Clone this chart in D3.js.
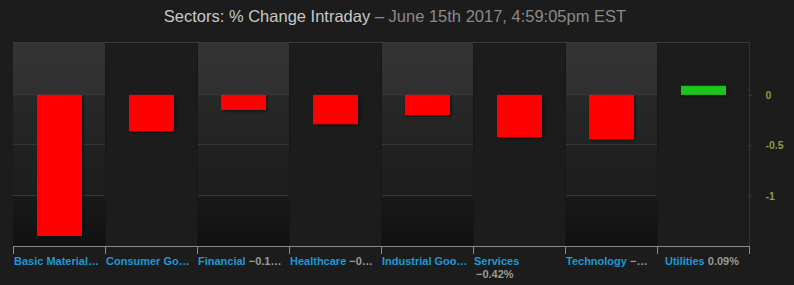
<!DOCTYPE html>
<html>
<head>
<meta charset="utf-8">
<script src="https://cdn.jsdelivr.net/npm/d3@7"></script>
<style>
  html, body { margin: 0; padding: 0; background: #1c1c1c; }
  svg { display: block; }
</style>
</head>
<body>
<div id="chart"></div>
<script>
// sector data
var categories = ["Basic Materials", "Consumer Goods", "Financial", "Healthcare",
                  "Industrial Goods", "Services", "Technology", "Utilities"];
var values = [-1.40, -0.36, -0.15, -0.29, -0.20, -0.42, -0.44, 0.09];

// tick labels as they are shown (truncated / wrapped)
var tickNames = ["Basic Material\u2026", "Consumer Go\u2026", "Financial", "Healthcare",
                 "Industrial Goo\u2026", "Services", "Technology", "Utilities"];
var tickValues = ["", "", "\u22120.1\u2026", "\u22120\u2026", "", "\u22120.42%", "\u2212\u2026", "0.09%"];
var tickWrap = [false, false, false, false, false, true, false, false];
var tickCenter = [false, false, false, false, false, false, false, true];

var yTicks = [0, -0.5, -1];
var yDomain = [-1.5, 0.525];

var W = 794, H = 285;
var plotLeft = 13, plotRight = 749, plotTop = 42, plotBottom = 246;

var svg = d3.select("#chart").append("svg")
  .attr("width", W)
  .attr("height", H);

var defs = svg.append("defs");

var x = d3.scaleBand().domain(categories).range([plotLeft, plotRight]);
var y = d3.scaleLinear().domain(yDomain).range([plotBottom, plotTop]);

// gradient for the lighter alternating columns
var frac = function (v) { return (y(v) - plotTop) / (plotBottom - plotTop); };
var grad = defs.append("linearGradient")
  .attr("id", "colgrad")
  .attr("x1", 0).attr("x2", 0).attr("y1", 0).attr("y2", 1);
[
  [0, "#343434"], [frac(0), "#303030"], [frac(0) + 0.005, "#282828"],
  [frac(-0.5), "#232323"], [frac(-0.5) + 0.005, "#212121"],
  [frac(-1), "#1d1d1d"], [frac(-1) + 0.005, "#191919"], [1, "#111111"]
].forEach(function (s) {
  grad.append("stop").attr("offset", s[0]).attr("stop-color", s[1]);
});

var shadow = defs.append("filter").attr("id", "shadow")
  .attr("x", "-20%").attr("y", "-20%").attr("width", "150%").attr("height", "150%");
shadow.append("feDropShadow")
  .attr("dx", 1.5).attr("dy", 1.5).attr("stdDeviation", 1.8)
  .attr("flood-color", "#000").attr("flood-opacity", 0.45);

// title
var title = svg.append("text")
  .attr("x", 395).attr("y", 22)
  .attr("text-anchor", "middle")
  .style("font-family", "'Liberation Sans', Arial, sans-serif")
  .style("font-size", "16.5px");
title.append("tspan").attr("fill", "#c8c8c8").text("Sectors: % Change Intraday");
title.append("tspan").attr("fill", "#8a8a8a").text(" \u2013 June 15th 2017, 4:59:05pm EST");

// column backgrounds
svg.append("g").selectAll("rect")
  .data(categories)
  .enter().append("rect")
  .attr("x", function (d) { return x(d); })
  .attr("y", plotTop)
  .attr("width", x.bandwidth())
  .attr("height", plotBottom - plotTop)
  .attr("fill", function (d, i) { return i % 2 === 0 ? "url(#colgrad)" : "#1c1c1c"; });

// grid lines only on the lighter columns
var grid = svg.append("g");
categories.forEach(function (c, i) {
  if (i % 2 !== 0) return;
  grid.selectAll(null)
    .data(yTicks)
    .enter().append("line")
    .attr("x1", x(c)).attr("x2", x(c) + x.bandwidth())
    .attr("y1", function (d) { return Math.round(y(d)) - 0.5; })
    .attr("y2", function (d) { return Math.round(y(d)) - 0.5; })
    .attr("stroke", "#363636");
});

// soft separators between columns
svg.append("g").selectAll("line")
  .data(categories.slice(1))
  .enter().append("line")
  .attr("x1", function (d) { return x(d) + 0.5; })
  .attr("x2", function (d) { return x(d) + 0.5; })
  .attr("y1", plotTop).attr("y2", plotBottom)
  .attr("stroke", "#171717");

// frame top
svg.append("line")
  .attr("x1", plotLeft).attr("x2", plotRight + 1)
  .attr("y1", plotTop + 0.5).attr("y2", plotTop + 0.5)
  .attr("stroke", "#3a3a3a");

// bars
var barW = Math.round(x.bandwidth() * 0.49);
svg.append("g").selectAll("rect")
  .data(values)
  .enter().append("rect")
  .attr("x", function (d, i) { return Math.round(x(categories[i]) + x.bandwidth() * 0.26); })
  .attr("y", function (d) { return y(Math.max(0, d)); })
  .attr("width", barW)
  .attr("height", function (d) { return Math.abs(y(d) - y(0)); })
  .attr("fill", function (d) { return d < 0 ? "#ff0000" : "#1cc41c"; })
  .attr("filter", "url(#shadow)");

// right axis
var yAxis = svg.append("g")
  .attr("transform", "translate(" + (plotRight + 0.5) + ",0)")
  .call(d3.axisRight(y).tickValues(yTicks).tickSize(2).tickPadding(14)
    .tickFormat(function (d) { return String(d); }));
yAxis.select(".domain").attr("stroke", "#333").attr("d", "M0," + plotTop + "V" + plotBottom);
yAxis.selectAll(".tick line").attr("stroke", "#444");
yAxis.selectAll(".tick text")
  .attr("fill", "#8a9b3c")
  .style("font-family", "'Liberation Sans', Arial, sans-serif")
  .style("font-size", "10.5px")
  .style("font-weight", "bold");

// bottom axis: line plus ticks on column boundaries
var xb = svg.append("g");
xb.append("line")
  .attr("x1", plotLeft).attr("x2", plotRight + 1)
  .attr("y1", plotBottom + 0.5).attr("y2", plotBottom + 0.5)
  .attr("stroke", "#8a8a8a");
xb.selectAll(".tk")
  .data(categories.concat(["end"]))
  .enter().append("line")
  .attr("class", "tk")
  .attr("x1", function (d) { return (d === "end" ? plotRight : x(d)) + 0.5; })
  .attr("x2", function (d) { return (d === "end" ? plotRight : x(d)) + 0.5; })
  .attr("y1", plotBottom).attr("y2", plotBottom + 8)
  .attr("stroke", "#8a8a8a");

var labels = xb.selectAll(".lbl")
  .data(categories)
  .enter().append("text")
  .attr("class", "lbl")
  .attr("x", function (d, i) { return tickCenter[i] ? x(d) + x.bandwidth() / 2 - 1 : x(d) + 1; })
  .attr("y", 265)
  .attr("text-anchor", function (d, i) { return tickCenter[i] ? "middle" : "start"; })
  .style("font-family", "'Liberation Sans', Arial, sans-serif")
  .style("font-size", "11px")
  .style("font-weight", "bold");

labels.each(function (d, i) {
  var t = d3.select(this);
  t.append("tspan").attr("fill", "#1b9ad6").text(tickNames[i]);
  if (!tickValues[i]) return;
  if (tickWrap[i]) {
    t.append("tspan").attr("x", x(d) + 3).attr("dy", 12.5).attr("fill", "#9a9a9a").text(tickValues[i]);
  } else {
    t.append("tspan").attr("fill", "#9a9a9a").text(" " + tickValues[i]);
  }
});
</script>
</body>
</html>
